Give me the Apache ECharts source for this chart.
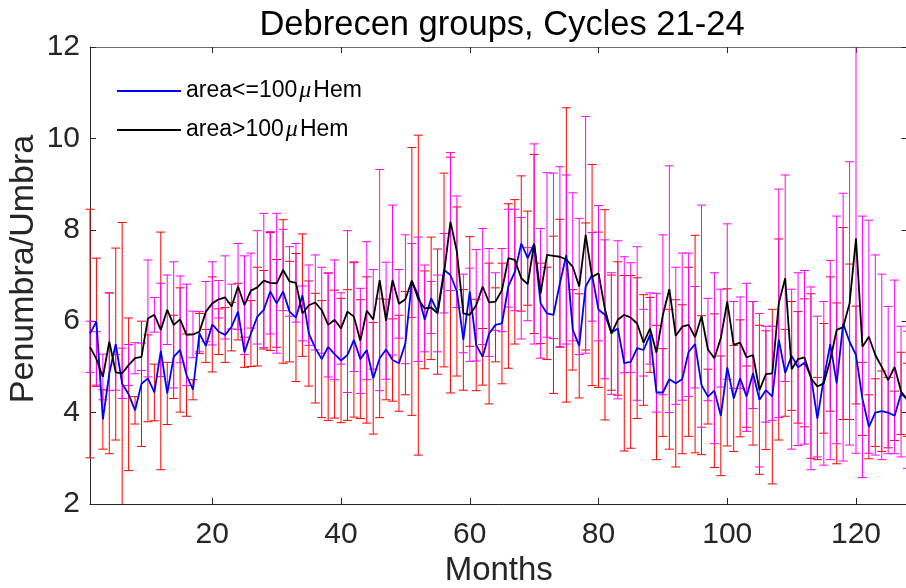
<!DOCTYPE html>
<html>
<head>
<meta charset="utf-8">
<script src="https://cdn.jsdelivr.net/npm/echarts@6/dist/echarts.min.js"></script>
<style>
  html, body { margin: 0; padding: 0; background: #ffffff; }
  #chart { width: 906px; height: 588px; }
</style>
</head>
<body>
<div id="chart"></div>
<script>
// Monthly mean penumbra/umbra area ratio of Debrecen sunspot groups, cycles 21-24.
// Month index along the normalised cycle (1..128).
const months = [];
for (let m = 1; m <= 128; m++) months.push(m);

// Small groups (area <= 100 MSH): mean ratio and its error
const smallMean = [
  5.73, 5.99, 3.85, 4.86, 5.50, 4.63, 4.40, 4.05, 4.63, 4.75, 4.44, 5.35, 4.42, 5.22, 5.37, 4.82,
  4.50, 5.73, 5.46, 5.93, 5.77, 5.70, 5.88, 6.21, 5.32, 5.73, 6.10, 6.25, 6.65, 6.39, 6.65, 6.21,
  6.08, 6.57, 5.73, 5.41, 5.17, 5.44, 5.28, 5.14, 5.26, 5.59, 5.17, 5.37, 4.75, 5.19, 5.38, 5.15,
  5.08, 5.52, 6.87, 6.57, 6.03, 6.50, 6.21, 7.12, 7.01, 6.65, 5.59, 6.65, 5.48, 5.22, 5.73, 5.92,
  5.95, 6.77, 7.08, 7.70, 7.38, 7.69, 6.39, 6.17, 6.14, 6.83, 7.45, 5.81, 5.46, 6.76, 7.01, 6.25,
  6.14, 5.75, 5.84, 5.08, 5.11, 5.41, 5.37, 5.70, 4.44, 4.44, 4.73, 4.64, 4.73, 5.33, 5.50, 4.60,
  4.35, 4.48, 3.93, 4.99, 4.31, 4.75, 4.35, 4.86, 4.28, 4.49, 4.35, 5.60, 4.87, 5.24, 4.99, 5.09,
  4.80, 3.87, 4.75, 5.50, 4.64, 5.95, 5.55, 5.26, 4.30, 3.69, 4.00, 4.03, 4.00, 3.93, 4.42, 4.28
];
const smallErr = [
  2.72, 1.39, 0.65, 1.76, 2.10, 3.53, 1.67, 0.30, 1.37, 0.95, 0.62, 2.60, 0.68, 0.91, 1.36, 0.90,
  0.22, 0.44, 0.36, 1.04, 0.50, 0.60, 0.53, 0.62, 0.33, 0.72, 1.08, 0.86, 1.29, 0.96, 1.57, 1.10,
  1.40, 1.34, 1.15, 1.20, 1.28, 1.61, 1.40, 1.36, 1.43, 1.69, 1.30, 1.60, 1.22, 1.30, 1.10, 0.90,
  1.05, 1.13, 2.93, 3.50, 1.07, 1.34, 1.37, 2.12, 2.58, 1.85, 1.10, 1.20, 1.00, 0.62, 1.54, 0.81,
  1.32, 1.80, 1.58, 1.48, 1.03, 1.96, 0.88, 1.01, 1.72, 1.40, 3.22, 0.88, 1.14, 1.39, 2.42, 1.70,
  2.30, 1.26, 1.46, 1.92, 1.89, 1.54, 1.21, 0.82, 1.47, 0.96, 1.53, 1.83, 1.63, 1.85, 2.38, 1.52,
  0.60, 1.68, 1.31, 1.72, 1.16, 1.28, 0.67, 1.57, 1.63, 1.30, 1.91, 2.20, 0.95, 1.19, 1.22, 1.40,
  1.80, 0.90, 1.20, 1.47, 1.76, 2.10, 1.70, 1.07, 0.80, 0.70, 0.74, 0.88, 0.77, 0.54, 0.90, 0.80
];

// Large groups (area > 100 MSH): mean ratio and its error
const largeMean = [
  5.44, 5.17, 4.78, 5.55, 4.88, 4.86, 5.04, 5.19, 5.22, 6.06, 6.14, 5.81, 6.25, 5.92, 6.04, 5.70,
  5.71, 5.77, 6.21, 6.39, 6.48, 6.52, 6.32, 6.76, 6.35, 6.67, 6.74, 6.89, 6.84, 6.83, 7.12, 6.87,
  6.84, 6.17, 6.35, 6.41, 6.24, 5.92, 6.03, 5.84, 6.21, 6.10, 5.57, 6.23, 6.04, 6.90, 6.01, 6.90,
  6.38, 6.48, 6.89, 6.48, 6.28, 6.30, 6.17, 7.05, 8.18, 7.52, 6.17, 6.14, 6.35, 6.76, 6.41, 6.43,
  6.68, 7.38, 7.34, 6.94, 6.81, 7.69, 6.61, 7.45, 7.43, 7.41, 7.35, 7.19, 6.76, 7.89, 6.97, 7.05,
  6.26, 5.73, 6.03, 6.14, 6.08, 5.95, 5.53, 5.84, 5.31, 6.14, 6.70, 5.68, 5.88, 5.92, 5.65, 6.11,
  5.38, 5.19, 5.63, 6.43, 5.48, 5.53, 5.21, 5.26, 4.49, 4.84, 4.86, 6.39, 6.94, 4.95, 5.17, 5.21,
  4.75, 4.57, 4.64, 5.15, 5.81, 5.87, 6.39, 7.81, 5.44, 5.66, 5.26, 5.00, 4.71, 5.00, 4.46, 4.28
];
const largeErr = [
  0.56, 0.60, 0.50, 1.07, 0.39, 0.55, 0.45, 0.34, 0.30, 1.28, 0.38, 1.02, 0.76, 1.38, 0.95, 1.11,
  0.51, 0.44, 0.66, 0.91, 0.41, 0.91, 0.49, 0.94, 1.08, 0.82, 1.24, 1.47, 1.12, 1.53, 0.89, 0.76,
  0.86, 0.60, 0.88, 1.04, 0.94, 1.14, 1.31, 0.78, 1.77, 1.20, 1.15, 1.51, 1.09, 2.42, 1.28, 1.64,
  0.75, 1.41, 0.81, 1.36, 0.95, 0.57, 0.84, 0.87, 1.51, 1.22, 0.86, 1.02, 1.22, 1.27, 1.18, 0.63,
  0.91, 1.07, 1.11, 1.33, 0.80, 2.19, 1.42, 1.80, 1.81, 1.97, 1.85, 1.62, 1.49, 2.59, 0.97, 1.48,
  1.52, 1.33, 1.73, 1.27, 1.20, 1.68, 0.73, 0.78, 1.30, 1.75, 2.70, 1.50, 1.61, 1.57, 1.11, 2.43,
  1.12, 1.87, 1.07, 1.70, 0.95, 1.00, 1.62, 1.17, 1.68, 1.05, 1.03, 2.50, 2.26, 1.75, 1.89, 1.90,
  2.00, 1.54, 1.79, 2.18, 2.49, 2.93, 3.10, 4.70, 2.86, 2.55, 2.19, 2.03, 1.61, 1.90, 1.43, 1.50
];

const xTicks = [20, 40, 60, 80, 100, 120];
const seriesNames = ['area<=100\u03bcHem', 'area>100\u03bcHem'];
const yAxisTitle = 'Penumbra/Umbra';

const FONT = '"Liberation Sans", Arial, Helvetica, sans-serif';
const AXIS_COLOR = '#262626';

function lineData(mean) {
  return mean.map((v, i) => [months[i], v]);
}
function errorData(mean, err) {
  return mean.map((v, i) => [months[i], v - err[i], v + err[i]]);
}

// Vertical error bar with end caps, clipped to the plot rectangle
function errorBarRenderer(color) {
  return function (params, api) {
    const cs = params.coordSys;
    const x = api.value(0);
    const top = api.coord([x, api.value(2)]);
    const bot = api.coord([x, api.value(1)]);
    const yMin = cs.y, yMax = cs.y + cs.height;
    const px = top[0];
    const style = { stroke: color, lineWidth: 1, fill: null };
    const cap = 4.5;
    const children = [{
      type: 'line',
      shape: { x1: px, y1: Math.max(top[1], yMin), x2: px, y2: Math.min(bot[1], yMax) },
      style: style
    }];
    if (top[1] >= yMin) {
      children.push({ type: 'line', shape: { x1: px - cap, y1: top[1], x2: px + cap, y2: top[1] }, style: style });
    }
    if (bot[1] <= yMax) {
      children.push({ type: 'line', shape: { x1: px - cap, y1: bot[1], x2: px + cap, y2: bot[1] }, style: style });
    }
    return { type: 'group', children: children };
  };
}

const chart = echarts.init(document.getElementById('chart'), null, { renderer: 'canvas' });

const commonX = { type: 'value', min: 1, max: 128, splitLine: { show: false } };
const commonY = { type: 'value', min: 2, max: 12, interval: 2, splitLine: { show: false } };

chart.setOption({
  backgroundColor: '#ffffff',
  animation: false,
  title: {
    text: 'Debrecen groups, Cycles 21-24',
    left: 497,
    top: 3,
    textAlign: 'center',
    textStyle: { fontFamily: FONT, fontSize: 34.5, fontWeight: 'normal', color: '#000000' }
  },
  // Vertical axis title, reading bottom to top
  graphic: [{
    type: 'text',
    x: 24,
    y: 269,
    rotation: Math.PI / 2,
    silent: true,
    style: {
      text: yAxisTitle,
      fontFamily: FONT,
      fontSize: 34,
      fill: AXIS_COLOR,
      align: 'center',
      verticalAlign: 'middle'
    }
  }],
  legend: {
    data: seriesNames.map(n => ({ name: n, icon: 'rect' })),
    orient: 'vertical',
    left: 117,
    top: 79,
    padding: 0,
    itemWidth: 64,
    itemHeight: 2,
    itemGap: 15,
    selectedMode: false,
    formatter: function (name) {
      const parts = name.split('\u03bc');
      return '{n|' + parts[0] + '}{m|\u03bc}{n|' + parts[1] + '}';
    },
    textStyle: {
      color: '#000000',
      rich: {
        n: { fontFamily: FONT, fontSize: 23, color: '#000000', lineHeight: 22 },
        m: { fontFamily: '"Liberation Serif", serif', fontStyle: 'italic', fontSize: 24, color: '#000000', lineHeight: 22, padding: [0, 2, 0, 2] }
      }
    }
  },
  grid: { left: 90, top: 47, width: 817.5, height: 457, containLabel: false, outerBoundsMode: 'none' },
  xAxis: [
    Object.assign({}, commonX, {
      position: 'bottom',
      name: 'Months',
      nameLocation: 'middle',
      nameGap: 46,
      nameTextStyle: { fontFamily: FONT, fontSize: 33, color: AXIS_COLOR },
      axisLine: { show: true, lineStyle: { color: AXIS_COLOR, width: 1 } },
      axisTick: { show: true, inside: true, length: 6, customValues: xTicks, lineStyle: { color: AXIS_COLOR } },
      axisLabel: { show: true, customValues: xTicks, margin: 16, fontFamily: FONT, fontSize: 30, color: AXIS_COLOR }
    }),
    Object.assign({}, commonX, {
      position: 'top',
      axisLine: { show: true, lineStyle: { color: '#6b6b6b', width: 1 } },
      axisTick: { show: true, inside: true, length: 6, customValues: xTicks, lineStyle: { color: AXIS_COLOR } },
      axisLabel: { show: false }
    })
  ],
  yAxis: [
    Object.assign({}, commonY, {
      position: 'left',
      axisLine: { show: true, lineStyle: { color: AXIS_COLOR, width: 1 } },
      axisTick: { show: true, inside: true, length: 6, lineStyle: { color: AXIS_COLOR } },
      axisLabel: { show: true, margin: 10, fontFamily: FONT, fontSize: 30, color: AXIS_COLOR }
    }),
    Object.assign({}, commonY, {
      position: 'right',
      axisLine: { show: true, lineStyle: { color: AXIS_COLOR, width: 1 } },
      axisTick: { show: true, inside: true, length: 6, lineStyle: { color: AXIS_COLOR } },
      axisLabel: { show: false }
    })
  ],
  series: [
    {
      name: 'errSmall',
      type: 'custom',
      xAxisIndex: 0, yAxisIndex: 0,
      renderItem: errorBarRenderer('#ff0000'),
      data: errorData(smallMean, smallErr),
      z: 1,
      silent: true
    },
    {
      name: 'errLarge',
      type: 'custom',
      xAxisIndex: 0, yAxisIndex: 0,
      renderItem: errorBarRenderer('#ff00ff'),
      data: errorData(largeMean, largeErr),
      z: 2,
      silent: true
    },
    {
      name: seriesNames[0],
      type: 'line',
      xAxisIndex: 0, yAxisIndex: 0,
      data: lineData(smallMean),
      symbol: 'none',
      color: '#0000ff',
      lineStyle: { color: '#0000ff', width: 1.8 },
      z: 3
    },
    {
      name: seriesNames[1],
      type: 'line',
      xAxisIndex: 0, yAxisIndex: 0,
      data: lineData(largeMean),
      symbol: 'none',
      color: '#000000',
      lineStyle: { color: '#000000', width: 1.8 },
      z: 4
    }
  ]
});
</script>
</body>
</html>
